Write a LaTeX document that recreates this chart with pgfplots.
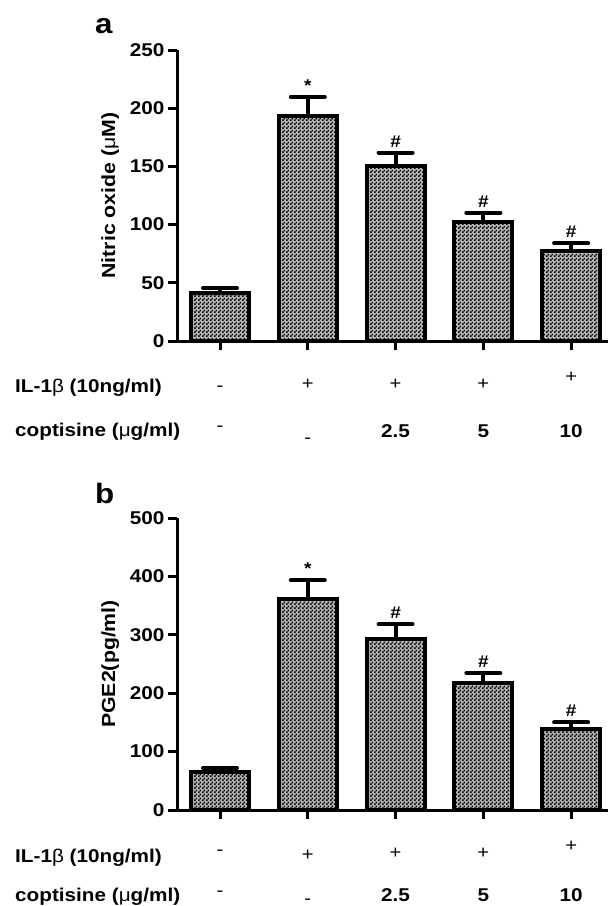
\documentclass[border=0pt]{standalone}
\usepackage{fontspec}
\setmainfont{Liberation Sans}[FakeStretch=1.12]
\usepackage{pgfplots}
\pgfplotsset{compat=1.18}
\usetikzlibrary{patterns}
\pgfdeclarepatternformonly{checker}{\pgfpointorigin}{\pgfpoint{3.6pt}{3.6pt}}{\pgfpoint{3.6pt}{3.6pt}}{%
  \pgfpathrectangle{\pgfpointorigin}{\pgfpoint{1.8pt}{1.8pt}}%
  \pgfpathrectangle{\pgfpoint{1.8pt}{1.8pt}}{\pgfpoint{1.8pt}{1.8pt}}%
  \pgfusepath{fill}}
\newcommand{\lab}{\bfseries\fontsize{18.5}{21}\selectfont}
\newcommand{\rowf}{\mdseries\fontsize{18}{21}\selectfont}
\pgfplotsset{panel/.style={
  scale only axis, width=431pt, xmin=-0.49, xmax=4.42, ymin=0,
  axis x line=bottom, axis y line=left,
  axis line style={line width=3pt, -, black},
  xtick={0,1,2,3,4}, xticklabels={,,,,},
  tick align=outside, major tick length=9pt,
  tick style={line width=3pt, black},
  /pgf/number format/assume math mode=true,
  yticklabel style={font=\bfseries\fontsize{18.5}{21}\selectfont},
  ylabel style={font=\bfseries\fontsize{19}{22}\selectfont, at={(axis description cs:-0.155,0.5)}, anchor=center},
  clip=false,
  nodes near coords style={font=\bfseries\fontsize{17}{19}\selectfont, anchor=south, yshift=0pt},
}}
\pgfplotsset{barstyle/.style={ybar, bar width=0.661, bar shift=0pt, draw=black, line width=4pt,
  fill=black!28, postaction={pattern=checker, pattern color=black},
  error bars/.cd, y dir=plus, y explicit, error mark=|,
  error bar style={line width=4pt, black},
  error mark options={line width=4pt, mark size=17pt, black, line cap=round}}}
\begin{document}
\begin{tikzpicture}
\useasboundingbox (0,0) rectangle (608pt,-906pt);
\clip (0,0) rectangle (608pt,-906pt);
% panel a
\node[anchor=base west, font=\bfseries\fontsize{28}{30}\selectfont, inner sep=0pt] at (95pt,-33pt) {a};
\begin{axis}[panel, at={(177pt,-341pt)}, anchor=south west, height=291pt,
  ymax=250, ytick={0,50,100,150,200,250}, ylabel={Nitric oxide (\textmd{μ}M)}]
\addplot[barstyle] coordinates {
  (0,41.2) +- (0,4.3)
  (1,193.1) +- (0,16.8)
  (2,150.2) +- (0,11.7)
  (3,102.4) +- (0,7.8)
  (4,77.6) +- (0,6.2)};
\addplot[draw=none, mark=none, nodes near coords, point meta=explicit symbolic] coordinates {
  (1,211.6) [*]
  (2,163.6) [\#]
  (3,111.9) [\#]
  (4,85.5) [\#]};
\node[anchor=base, font=\rowf] at ([yshift=-50pt]axis cs:0,0) {-};
\node[anchor=base, font=\rowf] at ([yshift=-48pt]axis cs:1,0) {+};
\node[anchor=base, font=\rowf] at ([yshift=-48pt]axis cs:2,0) {+};
\node[anchor=base, font=\rowf] at ([yshift=-48pt]axis cs:3,0) {+};
\node[anchor=base, font=\rowf] at ([yshift=-41pt]axis cs:4,0) {+};
\node[anchor=base, font=\rowf] at ([yshift=-90pt]axis cs:0,0) {-};
\node[anchor=base, font=\rowf] at ([yshift=-102pt]axis cs:1,0) {-};
\node[anchor=base, font=\lab] at ([yshift=-96pt]axis cs:2,0) {2.5};
\node[anchor=base, font=\lab] at ([yshift=-96pt]axis cs:3,0) {5};
\node[anchor=base, font=\lab] at ([yshift=-96pt]axis cs:4,0) {10};
\end{axis}
\node[anchor=base west, font=\lab, inner sep=0pt] at (15pt,-392pt) {IL-1\textmd{β} (10ng/ml)};
\node[anchor=base west, font=\lab, inner sep=0pt] at (15pt,-436pt) {coptisine (\textmd{μ}g/ml)};
% panel b
\node[anchor=base west, font=\bfseries\fontsize{28}{30}\selectfont, inner sep=0pt] at (95pt,-503pt) {b};
\begin{axis}[panel, at={(177pt,-810pt)}, anchor=south west, height=292pt,
  ymax=500, ytick={0,100,200,300,400,500}, ylabel={PGE2(pg/ml)}]
\addplot[barstyle] coordinates {
  (0,65) +- (0,7)
  (1,362.1) +- (0,30.9)
  (2,293.6) +- (0,24.5)
  (3,218.1) +- (0,16.5)
  (4,138.1) +- (0,12)};
\addplot[draw=none, mark=none, nodes near coords, point meta=explicit symbolic] coordinates {
  (1,396.4) [*]
  (2,321.5) [\#]
  (3,238) [\#]
  (4,153.5) [\#]};
\node[anchor=base, font=\rowf] at ([yshift=-45pt]axis cs:0,0) {-};
\node[anchor=base, font=\rowf] at ([yshift=-50pt]axis cs:1,0) {+};
\node[anchor=base, font=\rowf] at ([yshift=-48pt]axis cs:2,0) {+};
\node[anchor=base, font=\rowf] at ([yshift=-48pt]axis cs:3,0) {+};
\node[anchor=base, font=\rowf] at ([yshift=-41pt]axis cs:4,0) {+};
\node[anchor=base, font=\rowf] at ([yshift=-86pt]axis cs:0,0) {-};
\node[anchor=base, font=\rowf] at ([yshift=-94pt]axis cs:1,0) {-};
\node[anchor=base, font=\lab] at ([yshift=-91pt]axis cs:2,0) {2.5};
\node[anchor=base, font=\lab] at ([yshift=-91pt]axis cs:3,0) {5};
\node[anchor=base, font=\lab] at ([yshift=-91pt]axis cs:4,0) {10};
\end{axis}
\node[anchor=base west, font=\lab, inner sep=0pt] at (15pt,-901pt) {coptisine (\textmd{μ}g/ml)};
\node[anchor=base west, font=\lab, inner sep=0pt] at (15pt,-862pt) {IL-1\textmd{β} (10ng/ml)};
\end{tikzpicture}
\end{document}
